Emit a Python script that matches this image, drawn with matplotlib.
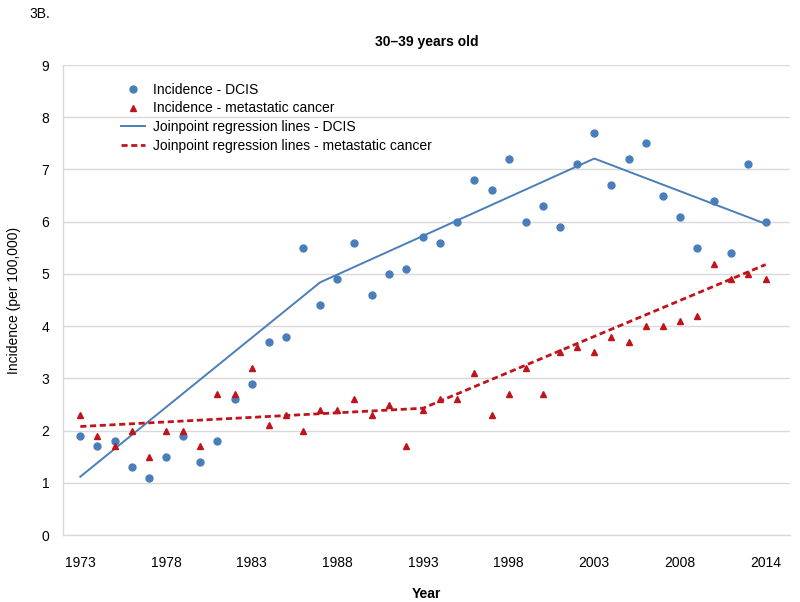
import matplotlib
matplotlib.use('Agg')  # no display
import matplotlib.pyplot as plt
import numpy as np

plt.rcParams['font.family'] = ['Liberation Sans', 'DejaVu Sans']

# Incidence per 100,000, one value per year (category axis, 41 points)
dcis = [1.9, 1.7, 1.8, 1.3, 1.1, 1.5, 1.9, 1.4, 1.8, 2.6,
        2.9, 3.7, 3.8, 5.5, 4.4, 4.9, 5.6, 4.6, 5.0, 5.1,
        5.7, 5.6, 6.0, 6.8, 6.6, 7.2, 6.0, 6.3, 5.9, 7.1,
        7.7, 6.7, 7.2, 7.5, 6.5, 6.1, 5.5, 6.4, 5.4, 7.1, 6.0]
metastatic = [2.3, 1.9, 1.7, 2.0, 1.5, 2.0, 2.0, 1.7, 2.7, 2.7,
              3.2, 2.1, 2.3, 2.0, 2.4, 2.4, 2.6, 2.3, 2.5, 1.7,
              2.4, 2.6, 2.6, 3.1, 2.3, 2.7, 3.2, 2.7, 3.5, 3.6,
              3.5, 3.8, 3.7, 4.0, 4.0, 4.1, 4.2, 5.2, 4.9, 5.0, 4.9]

# Joinpoint regression lines (joint index, fitted value)
dcis_joint_idx = [0, 14, 30, 40]
dcis_joint_val = [1.12, 4.84, 7.21, 5.96]
met_joint_idx = [0, 20, 40]
met_joint_val = [2.08, 2.43, 5.18]

tick_idx = [0, 5, 10, 15, 20, 25, 30, 35, 40]
tick_labels = ['1973', '1978', '1983', '1988', '1993', '1998', '2003', '2008', '2014']

blue = '#4a7ebb'
red = '#c0141c'
grid_col = '#d9d9d9'

x = np.arange(len(dcis))

fig = plt.figure(figsize=(8, 6.02), dpi=100)
ax = fig.add_axes([0.079, 0.111, 0.908, 0.781])

ax.plot(x, dcis, 'o', color=blue, markersize=5, label='Incidence - DCIS', zorder=3)
ax.plot(x, metastatic, '^', color=red, markersize=5, label='Incidence - metastatic cancer', zorder=3)
ax.plot(dcis_joint_idx, dcis_joint_val, '-', color=blue, linewidth=1.4,
        label='Joinpoint regression lines - DCIS', zorder=2)
ax.plot(met_joint_idx, met_joint_val, '--', color=red, linewidth=2, dashes=(2.2, 1.3),
        label='Joinpoint regression lines - metastatic cancer', zorder=2)

ax.set_xlim(-1, 41.4)
ax.set_ylim(0, 9)
ax.set_yticks(range(0, 10))
ax.set_xticks(tick_idx)
ax.set_xticklabels(tick_labels)
ax.tick_params(axis='both', length=0, labelsize=10)
ax.tick_params(axis='x', pad=15)
ax.tick_params(axis='y', pad=10)

ax.grid(axis='y', color=grid_col, linewidth=1)
ax.set_axisbelow(True)
for side in ['top', 'right']:
    ax.spines[side].set_visible(False)
for side in ['left', 'bottom']:
    ax.spines[side].set_color(grid_col)
    ax.spines[side].set_linewidth(1)

ax.set_ylabel('Incidence (per 100,000)', fontsize=10, labelpad=15)
ax.set_xlabel('Year', fontsize=10, fontweight='bold', labelpad=12)
ax.set_title('30\u201339 years old', fontsize=10, fontweight='bold', pad=14)
fig.text(0.037, 0.988, '3B.', fontsize=10, va='top', ha='left')

ax.legend(loc='upper left', bbox_to_anchor=(0.08, 0.962), frameon=False,
          fontsize=10, borderpad=0, borderaxespad=0, handlelength=1.7,
          handletextpad=0.6, labelspacing=0.33)

plt.savefig('out.png', dpi=100)
